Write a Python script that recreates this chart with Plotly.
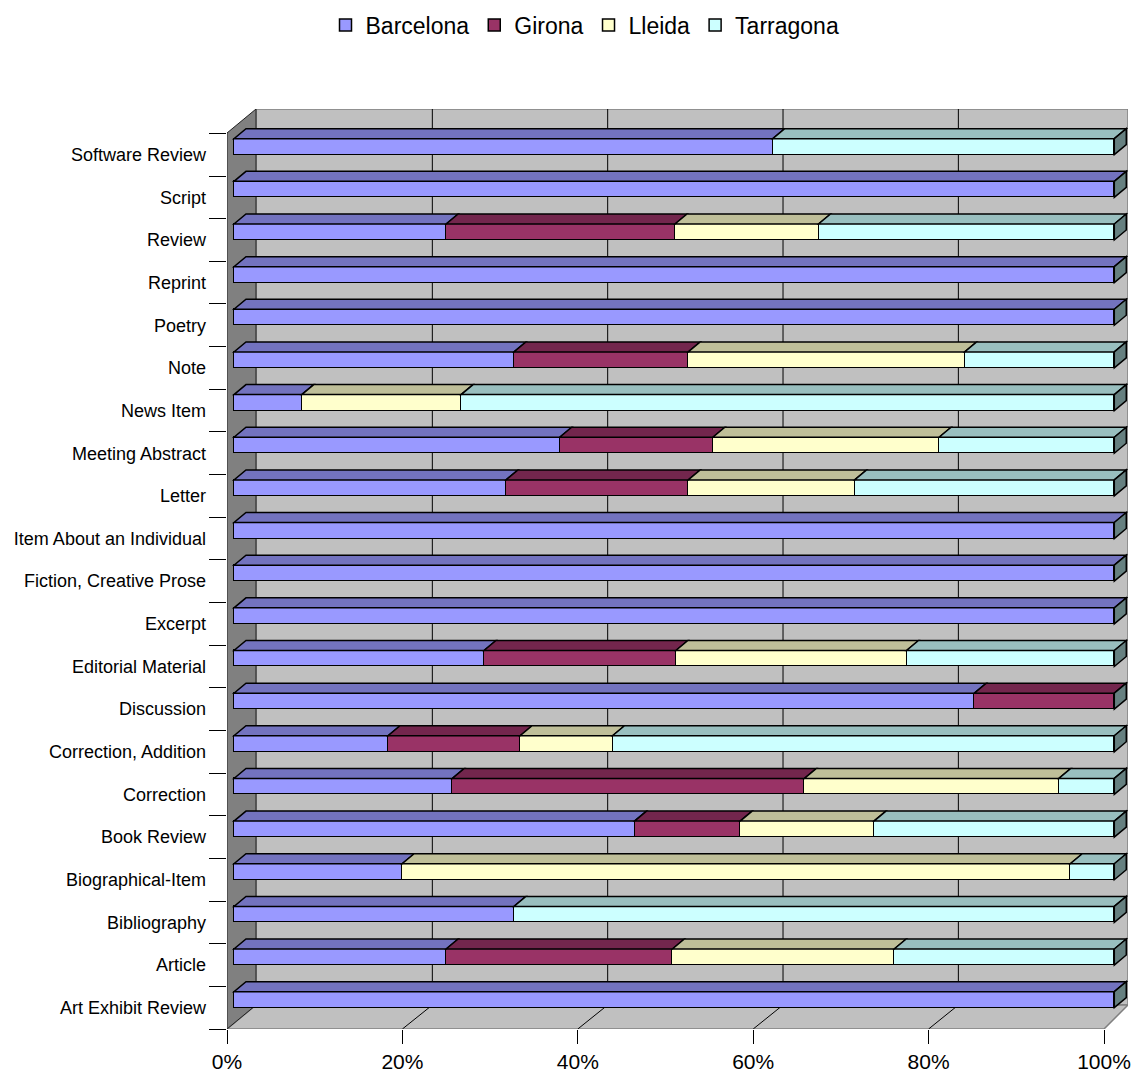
import plotly.graph_objects as go

# ---------------- data (percent of documents per province) ----------------
categories = [
    "Art Exhibit Review", "Article", "Bibliography", "Biographical-Item",
    "Book Review", "Correction", "Correction, Addition", "Discussion",
    "Editorial Material", "Excerpt", "Fiction, Creative Prose",
    "Item About an Individual", "Letter", "Meeting Abstract", "News Item",
    "Note", "Poetry", "Reprint", "Review", "Script", "Software Review",
]
barcelona = [100, 24.1, 31.8, 19.1, 45.5, 24.8, 17.5, 84.1, 28.4, 100, 100,
             100, 30.9, 37.0, 7.7, 31.8, 100, 100, 24.1, 100, 61.2]
girona = [0, 25.7, 0, 0, 12.0, 40.0, 15.0, 15.9, 21.8, 0, 0,
          0, 20.7, 17.4, 0, 19.8, 0, 0, 26.0, 0, 0]
lleida = [0, 25.2, 0, 75.9, 15.2, 28.9, 10.5, 0, 26.2, 0, 0,
          0, 18.9, 25.7, 18.1, 31.4, 0, 0, 16.3, 0, 0]
tarragona = [0, 25.0, 68.2, 5.0, 27.3, 6.3, 57.0, 0, 23.6, 0, 0,
             0, 29.5, 19.9, 74.2, 17.0, 0, 0, 33.6, 0, 38.8]
series_names = ["Barcelona", "Girona", "Lleida", "Tarragona"]
x_tick_values = [0, 20, 40, 60, 80, 100]
x_tick_labels = ["0%", "20%", "40%", "60%", "80%", "100%"]

# ---------------- styling ----------------
front_colors = ["#9999FF", "#993366", "#FFFFCC", "#CCFFFF"]
top_colors = ["#7373BF", "#73264D", "#BFBF99", "#99BFBF"]
side_color = "#668080"
FONT = "Liberation Sans, Arial, sans-serif"

W, H = 1136, 1073
L, R, T, B = 227, 1128, 109, 1029          # plot area in pixels
BAR_X0, BAR_S = 234.0, 8.803               # bar front plane: px of 0%, px per %
FLOOR_S = 8.77                             # floor front edge px per %
BACK_X0, BACK_S = 257.0, 8.767             # back wall px of 0%, px per %
PITCH = 42.65                              # px per category
Y0 = B - 0.5 * PITCH                       # px of first category centre


def px2x(px):
    return (px - BAR_X0) / BAR_S


def px2y(py):
    return (Y0 - py) / PITCH


DX = 12 / BAR_S
DY = 10 / PITCH
BAR_W = 16 / PITCH


def path(points):
    return "M " + " L ".join(f"{x:.4f},{y:.4f}" for x, y in points) + " Z"


series_vals = [barcelona, girona, lleida, tarragona]
totals = [sum(v[i] for v in series_vals) for i in range(len(categories))]

fig = go.Figure()
for name, vals, col in zip(series_names, series_vals, front_colors):
    fig.add_trace(go.Bar(
        y=categories, x=vals, name=name, orientation="h",
        width=BAR_W, offset=0,
        marker=dict(color=col, line=dict(color="black", width=1.5)),
        hoverinfo="name+x",
    ))
# invisible trace carrying the floor (tick) axis
fig.add_trace(go.Scatter(x=[None], y=[None], xaxis="x2", showlegend=False,
                         hoverinfo="skip", mode="markers"))

shapes = []
# walls and floor
shapes.append(dict(type="path", xref="x", yref="y", layer="below",
                   path=path([(px2x(256), px2y(1005)), (px2x(R), px2y(1005)),
                              (px2x(R), px2y(T)), (px2x(256), px2y(T))]),
                   fillcolor="#C0C0C0", line=dict(color="#808080", width=1.5)))
shapes.append(dict(type="path", xref="x", yref="y", layer="below",
                   path=path([(px2x(L), px2y(B)), (px2x(1104), px2y(B)),
                              (px2x(R), px2y(1005)), (px2x(256), px2y(1005))]),
                   fillcolor="#C0C0C0", line=dict(color="#808080", width=1.5)))
shapes.append(dict(type="path", xref="x", yref="y", layer="below",
                   path=path([(px2x(L), px2y(B)), (px2x(L), px2y(133)),
                              (px2x(256), px2y(T)), (px2x(256), px2y(1005))]),
                   fillcolor="#808080", line=dict(color="#202020", width=1)))
# gridlines on back wall and floor
for p in x_tick_values[1:-1]:
    bx = px2x(BACK_X0 + BACK_S * p)
    shapes.append(dict(type="line", xref="x", yref="y", layer="below",
                       x0=bx, x1=bx, y0=px2y(1005), y1=px2y(T),
                       line=dict(color="black", width=1)))
    shapes.append(dict(type="line", xref="x", yref="y", layer="below",
                       x0=px2x(L + FLOOR_S * p), y0=px2y(B),
                       x1=bx, y1=px2y(1005),
                       line=dict(color="black", width=1)))

# 3-D top faces and right-end side faces of the bars
for i in range(len(categories)):
    cum = 0.0
    yt = i + BAR_W
    for s, vals in enumerate(series_vals):
        v = vals[i] / totals[i] * 100
        if v > 0:
            x0, x1 = cum, cum + v
            shapes.append(dict(type="path", xref="x", yref="y", layer="above",
                               path=path([(x0, yt), (x1, yt), (x1 + DX, yt + DY),
                                          (x0 + DX, yt + DY)]),
                               fillcolor=top_colors[s],
                               line=dict(color="black", width=1.5)))
        cum += v
    shapes.append(dict(type="path", xref="x", yref="y", layer="above",
                       path=path([(cum, i), (cum, yt), (cum + DX, yt + DY),
                                  (cum + DX, i + DY)]),
                       fillcolor=side_color, line=dict(color="black", width=1.5)))

fig.update_layout(
    width=W, height=H,
    margin=dict(l=L, r=W - R, t=T, b=H - B, pad=0),
    barmode="stack", barnorm="percent", bargap=0,
    plot_bgcolor="white", paper_bgcolor="white",
    font=dict(family=FONT, color="black"),
    shapes=shapes,
    showlegend=True,
    legend=dict(orientation="h", xref="container", yref="container",
                x=585 / W, xanchor="center", y=1 - 25 / H, yanchor="middle",
                traceorder="normal", font=dict(size=23, family=FONT),
                bgcolor="rgba(0,0,0,0)"),
    xaxis=dict(range=[px2x(L), px2x(R)], showticklabels=False, ticks="",
               showgrid=False, zeroline=False, showline=False, fixedrange=True),
    xaxis2=dict(overlaying="x", anchor="y", side="bottom",
                range=[0, (R - L) / FLOOR_S], tickvals=x_tick_values,
                ticktext=x_tick_labels, ticks="outside", ticklen=14,
                tickcolor="black", tickwidth=1, ticklabelstandoff=0,
                tickfont=dict(size=21, family=FONT),
                showgrid=False, zeroline=False, showline=False, automargin=False),
    yaxis=dict(type="category", categoryorder="array", categoryarray=categories,
               range=[-0.5, px2y(T)], tickson="boundaries", ticks="outside",
               ticklen=17, tickcolor="black", tickwidth=1,
               ticklabelstandoff=20,
               tickfont=dict(size=18, family=FONT),
               showgrid=False, zeroline=False, showline=False, automargin=False),
)

fig.write_html("out.html", config={"displayModeBar": False})
